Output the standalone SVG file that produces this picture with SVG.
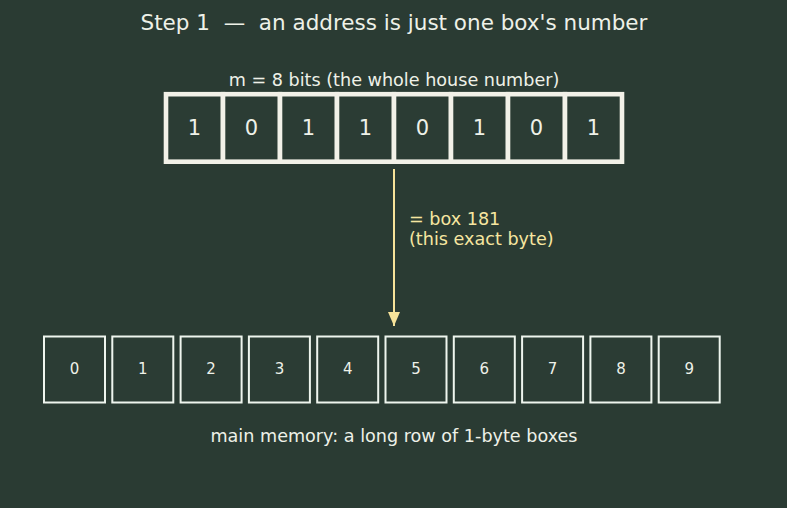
<svg xmlns="http://www.w3.org/2000/svg" width="787" height="508" viewBox="0 0 787 508">
<style>
text{font-family:"DejaVu Sans",sans-serif;fill:#eef1e8;text-anchor:middle;white-space:pre}
.bit{fill:#2b3c34;stroke:#f2f1e8;stroke-width:4.6}
.bitt{font-size:21px}
.mem{fill:#2b3c34;stroke:#eef5ee;stroke-width:2}
.memt{font-size:15px}
.lab{font-size:17.6px}
.yel{fill:#f6e6a0;text-anchor:start;font-size:17.6px}
</style>
<defs>
<marker id="ah" viewBox="0 0 14 12" refX="14" refY="6" markerWidth="14" markerHeight="12" markerUnits="userSpaceOnUse" orient="auto">
<path d="M0,0 L14,6 L0,12 Z" fill="#f6e39a"/>
</marker>
</defs>
<rect width="787" height="508" fill="#2a3b33"/>
<text id="title" x="394" y="30" font-size="21.5" xml:space="preserve">Step 1  —  an address is just one box's number</text>
<text id="mlabel" class="lab" x="394" y="86">m = 8 bits (the whole house number)</text>
<g id="address">
<g id="b0"><rect class="bit" x="166" y="94.2" width="57" height="67.5"/><text class="bitt" x="194.5" y="135">1</text></g>
<g id="b1"><rect class="bit" x="223" y="94.2" width="57" height="67.5"/><text class="bitt" x="251.5" y="135">0</text></g>
<g id="b2"><rect class="bit" x="280" y="94.2" width="57" height="67.5"/><text class="bitt" x="308.5" y="135">1</text></g>
<g id="b3"><rect class="bit" x="337" y="94.2" width="57" height="67.5"/><text class="bitt" x="365.5" y="135">1</text></g>
<g id="b4"><rect class="bit" x="394" y="94.2" width="57" height="67.5"/><text class="bitt" x="422.5" y="135">0</text></g>
<g id="b5"><rect class="bit" x="451" y="94.2" width="57" height="67.5"/><text class="bitt" x="479.5" y="135">1</text></g>
<g id="b6"><rect class="bit" x="508" y="94.2" width="57" height="67.5"/><text class="bitt" x="536.5" y="135">0</text></g>
<g id="b7"><rect class="bit" x="565" y="94.2" width="57" height="67.5"/><text class="bitt" x="593.5" y="135">1</text></g>
</g>
<g id="connectors">
<line x1="394" y1="169" x2="394" y2="326" stroke="#f6e39a" stroke-width="2" marker-end="url(#ah)"/>
</g>
<text id="arrowlabel1" class="yel" x="409" y="225">= box 181</text>
<text id="arrowlabel2" class="yel" x="409" y="245">(this exact byte)</text>
<g id="memory">
<g id="m0"><rect class="mem" x="44" y="336.5" width="61" height="66"/><text class="memt" x="74.5" y="374">0</text></g>
<g id="m1"><rect class="mem" x="112.3" y="336.5" width="61" height="66"/><text class="memt" x="142.8" y="374">1</text></g>
<g id="m2"><rect class="mem" x="180.6" y="336.5" width="61" height="66"/><text class="memt" x="211.1" y="374">2</text></g>
<g id="m3"><rect class="mem" x="248.9" y="336.5" width="61" height="66"/><text class="memt" x="279.4" y="374">3</text></g>
<g id="m4"><rect class="mem" x="317.2" y="336.5" width="61" height="66"/><text class="memt" x="347.7" y="374">4</text></g>
<g id="m5"><rect class="mem" x="385.5" y="336.5" width="61" height="66"/><text class="memt" x="416" y="374">5</text></g>
<g id="m6"><rect class="mem" x="453.8" y="336.5" width="61" height="66"/><text class="memt" x="484.3" y="374">6</text></g>
<g id="m7"><rect class="mem" x="522.1" y="336.5" width="61" height="66"/><text class="memt" x="552.6" y="374">7</text></g>
<g id="m8"><rect class="mem" x="590.4" y="336.5" width="61" height="66"/><text class="memt" x="620.9" y="374">8</text></g>
<g id="m9"><rect class="mem" x="658.7" y="336.5" width="61" height="66"/><text class="memt" x="689.2" y="374">9</text></g>
</g>
<text id="memlabel" class="lab" x="394" y="442">main memory: a long row of 1-byte boxes</text>
</svg>
